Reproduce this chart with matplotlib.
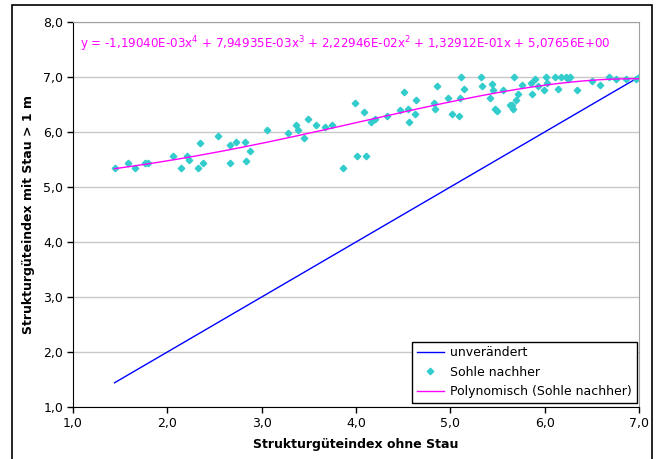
import matplotlib
matplotlib.use("Agg")
import matplotlib.pyplot as plt
import numpy as np

# Sohle nachher
x_sohle = [1.44, 1.58, 1.66, 1.76, 1.80, 2.06, 2.14, 2.21, 2.23, 2.33, 2.35, 2.38,
           2.54, 2.66, 2.66, 2.73, 2.82, 2.83, 2.88, 3.06, 3.28, 3.36, 3.39, 3.45,
           3.49, 3.58, 3.67, 3.75, 3.86, 3.99, 4.01, 4.08, 4.11, 4.16, 4.20, 4.33,
           4.47, 4.51, 4.55, 4.56, 4.63, 4.64, 4.83, 4.84, 4.86, 4.98, 5.02, 5.09,
           5.10, 5.11, 5.15, 5.32, 5.34, 5.42, 5.44, 5.45, 5.47, 5.50, 5.56, 5.63,
           5.65, 5.66, 5.68, 5.70, 5.72, 5.76, 5.86, 5.87, 5.90, 5.93, 5.99, 6.01,
           6.03, 6.11, 6.14, 6.17, 6.23, 6.25, 6.27, 6.34, 6.50, 6.59, 6.68, 6.76,
           6.86, 6.97, 7.00]
y_sohle = [5.34, 5.44, 5.34, 5.44, 5.44, 5.56, 5.34, 5.56, 5.49, 5.34, 5.80, 5.44,
           5.93, 5.44, 5.76, 5.82, 5.82, 5.47, 5.66, 6.03, 5.99, 6.13, 6.03, 5.90,
           6.24, 6.13, 6.09, 6.13, 5.34, 6.52, 5.56, 6.36, 5.56, 6.19, 6.23, 6.30,
           6.40, 6.73, 6.42, 6.19, 6.33, 6.59, 6.52, 6.42, 6.83, 6.62, 6.33, 6.30,
           6.62, 7.00, 6.79, 7.00, 6.83, 6.62, 6.88, 6.76, 6.42, 6.39, 6.76, 6.49,
           6.50, 6.42, 7.00, 6.59, 6.69, 6.86, 6.89, 6.69, 6.96, 6.83, 6.76, 7.00,
           6.89, 7.00, 6.79, 7.00, 7.00, 6.96, 7.00, 6.76, 6.93, 6.86, 7.00, 6.96,
           6.96, 6.96, 7.00]

# unverändert (y = x)
x_unv = [1.44, 7.0]
y_unv = [1.44, 7.0]

# trendline coefficients as printed in the chart (x^4 ... x^0)
coef = [-1.19040e-03, 7.94935e-03, 2.22946e-02, 1.32912e-01, 5.07656e+00]
eq_text = ("y = -1,19040E-03x$^4$ + 7,94935E-03x$^3$ + 2,22946E-02x$^2$ "
           "+ 1,32912E-01x + 5,07656E+00")

x_ticks = [1, 2, 3, 4, 5, 6, 7]
y_ticks = [1, 2, 3, 4, 5, 6, 7, 8]

W, H = 656, 459
fig = plt.figure(figsize=(W / 100, H / 100), dpi=100)
ax = fig.add_axes([73 / W, 1 - 407 / H, (639 - 73) / W, (407 - 22) / H])

ax.set_xlim(1, 7)
ax.set_ylim(1, 8)
ax.set_xticks(x_ticks)
ax.set_yticks(y_ticks)
ax.set_xticklabels([("%.1f" % v).replace(".", ",") for v in x_ticks])
ax.set_yticklabels([("%.1f" % v).replace(".", ",") for v in y_ticks])
ax.tick_params(labelsize=9, length=4, width=1, direction="out", pad=3)
ax.grid(axis="y", color="#c8c8c8", lw=1)
ax.set_axisbelow(True)
for s in ["top", "right"]:
    ax.spines[s].set_color("#a0a0a0")
for s in ["left", "bottom"]:
    ax.spines[s].set_color("black")

ax.plot(x_unv, y_unv, color="#0000ff", lw=1, label="unverändert")
ax.plot(x_sohle, y_sohle, ls="none", marker="D", ms=3.3, color="#33cccc",
        mec="#33cccc", label="Sohle nachher")
xt = np.linspace(min(x_sohle), max(x_sohle), 200)
ax.plot(xt, np.polyval(coef, xt), color="#ff00ff", lw=1,
        label="Polynomisch (Sohle nachher)")

ax.text(80 / W, 1 - 44 / H, eq_text, transform=fig.transFigure, color="#ff00ff",
        fontsize=8.6, va="center", ha="left")

ax.set_xlabel("Strukturgüteindex ohne Stau", fontsize=9, fontweight="bold", labelpad=6)
ax.set_ylabel("Strukturgüteindex mit Stau > 1 m", fontsize=9, fontweight="bold", labelpad=6)

leg = ax.legend(loc="lower right", bbox_to_anchor=(637 / W, 1 - 403 / H),
                bbox_transform=fig.transFigure, fontsize=9, fancybox=False,
                framealpha=1, edgecolor="black", borderpad=0.4, handlelength=2.2,
                handletextpad=0.5, labelspacing=0.5, borderaxespad=0)
leg.get_frame().set_linewidth(1)

fig.add_artist(plt.Rectangle((12 / W, -0.01), (652 - 12) / W, 1 - 5 / H + 0.01,
                             transform=fig.transFigure, fill=False, ec="black", lw=1.2))

fig.savefig("out.png", dpi=100)
